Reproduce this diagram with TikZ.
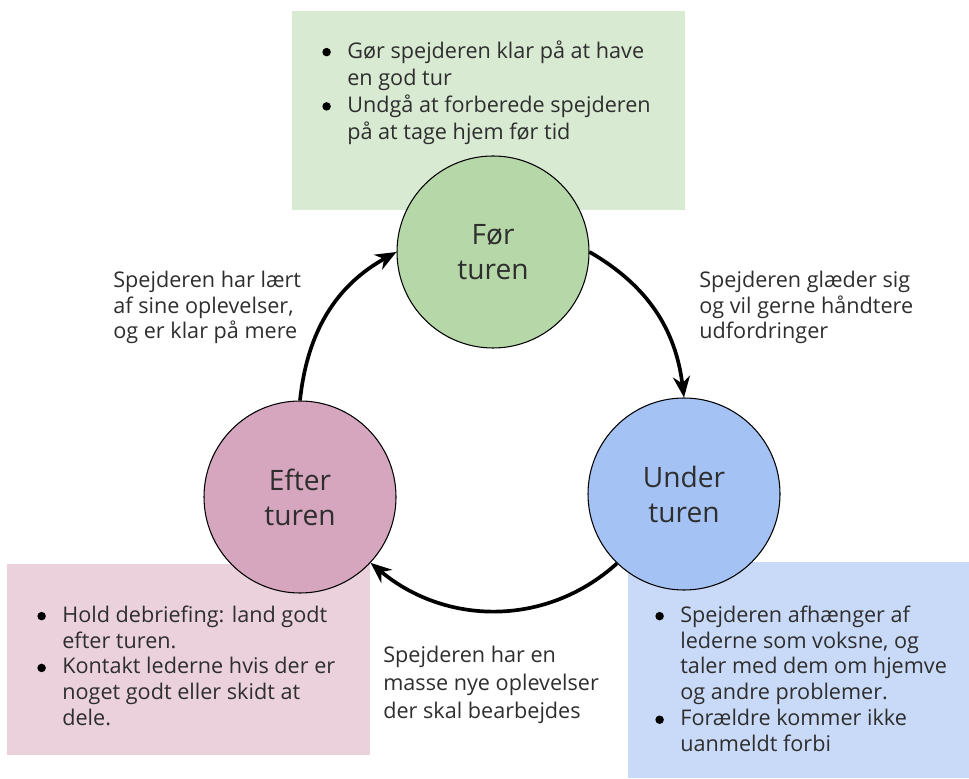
\documentclass[tikz,border=0pt]{standalone}
\usepackage{fontspec}
\setmainfont{Open Sans}
\usepackage{tikz}
\usetikzlibrary{arrows.meta, positioning}

\definecolor{greenbox}{HTML}{D9EAD3}
\definecolor{greencircle}{HTML}{B6D7A8}
\definecolor{pinkbox}{HTML}{EAD1DC}
\definecolor{pinkcircle}{HTML}{D5A6BD}
\definecolor{bluebox}{HTML}{C9DAF8}
\definecolor{bluecircle}{HTML}{A4C2F4}
\definecolor{textgray}{HTML}{2E2E2E}

% a round bullet a bit larger than the one of the font
\newcommand{\bigbullet}{\tikz[baseline=-0.28em]\fill[black] (0,0) circle (0.085cm);}

\begin{document}
\begin{tikzpicture}[font=\fontsize{12.3}{14.74}\selectfont, text=textgray]
        % Setup the styles for the phases, labels and arrows
        \tikzset{phase style/.style={circle,
                                     draw=black,
                                     line width=0.6pt,
                                     minimum size=3.84cm,
                                     inner sep=0pt,
                                     align=center,
                                     font=\fontsize{16}{19.9}\selectfont},
                 label style/.style={anchor=north west, inner sep=0pt},
                 arrow style/.style={line width=2.1pt,
                                     -{Stealth[length=0.42cm, width=0.34cm]}}}

        \useasboundingbox (0,0) rectangle (19.38,15.56);

        % Draw the boxes behind
        \fill[greenbox] (5.84,11.36) rectangle (13.70,15.34);
        \fill[pinkbox]  (0.14,0.46)  rectangle (7.40,4.28);
        \fill[bluebox]  (12.56,0)    rectangle (19.38,4.32);

        % Draw the phases
        \node[phase style, fill=greencircle] at (9.86, 10.52) (foer)  {Før\\turen};
        \node[phase style, fill=bluecircle]  at (13.68, 5.68) (under) {Under\\turen};
        \node[phase style, fill=pinkcircle]  at (6.00, 5.62)  (efter) {Efter\\turen};

        % Bullet lists in the boxes
        \node[label style] at (6.44, 14.766) (foerlist) {%
            \begin{tabular}{@{}p{0.5cm}@{}l@{}}
            \bigbullet & Gør spejderen klar på at have\\[0.7pt]
                       & en god tur\\[0.7pt]
            \bigbullet & Undgå at forberede spejderen\\[0.7pt]
                       & på at tage hjem før tid
            \end{tabular}};
        \node[label style] at (0.74, 3.486) (efterlist) {%
            \begin{tabular}{@{}p{0.5cm}@{}l@{}}
            \bigbullet & Hold debriefing: land godt\\
                       & efter turen.\\
            \bigbullet & Kontakt lederne hvis der er\\
                       & noget godt eller skidt at\\
                       & dele.
            \end{tabular}};
        \node[label style] at (13.10, 3.486) (underlist) {%
            \begin{tabular}{@{}p{0.5cm}@{}l@{}}
            \bigbullet & Spejderen afhænger af\\
                       & lederne som voksne, og\\
                       & taler med dem om hjemve\\
                       & og andre problemer.\\
            \bigbullet & Forældre kommer ikke\\
                       & uanmeldt forbi
            \end{tabular}};

        % Labels next to the arrows
        \node[label style] at (2.26, 10.186) (learnt) {%
            \begin{tabular}{@{}l@{}}
            Spejderen har lært\\ af sine oplevelser,\\ og er klar på mere
            \end{tabular}};
        \node[label style] at (13.98, 10.186) (glad) {%
            \begin{tabular}{@{}l@{}}
            Spejderen glæder sig\\ og vil gerne håndtere\\ udfordringer
            \end{tabular}};
        \node[label style] at (7.66, 2.686) (news) {%
            \begin{tabular}{@{}l@{}}
            Spejderen har en\\[1.4pt] masse nye oplevelser\\[1.4pt] der skal bearbejdes
            \end{tabular}};

        % Connect the phases with arrows
        \draw[arrow style] (foer.east) to[out=-30, in=97]   (under.north);
        \draw[arrow style] (under.226) to[out=-138, in=-40] (efter.-43);
        \draw[arrow style] (efter.north) to[out=84, in=-151] (foer.west);
\end{tikzpicture}
\end{document}
